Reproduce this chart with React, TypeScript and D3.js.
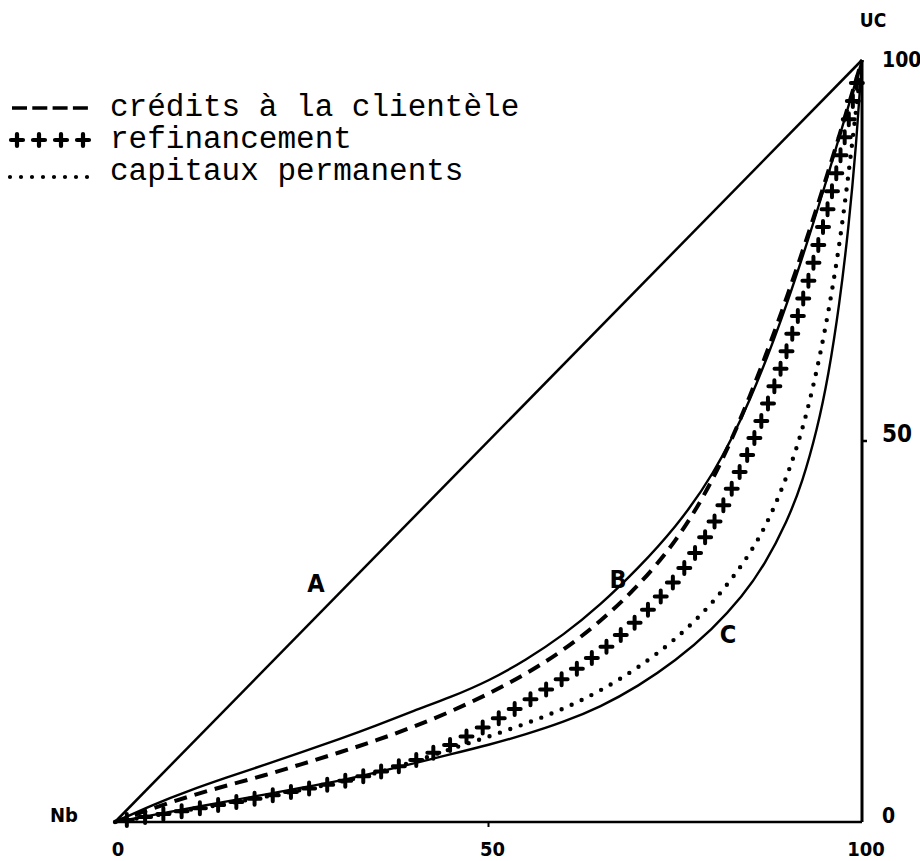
import React, { useEffect, useRef } from 'react';
import * as d3 from 'd3';

// Curve B (upper solid Lorenz curve)
const bX = [0, 5, 10, 15, 20, 25, 30, 35, 40, 45, 50, 55, 60, 65, 70, 75, 80, 85, 90, 95, 100];
const bY = [0, 2.25, 4.15, 5.85, 7.5, 9.15, 10.85, 12.65, 14.6, 16.4, 18.5, 21.25, 24.5, 28.5, 33.25, 38.6, 45.3, 55, 67.8, 83.2, 100];

// Curve C (lower solid Lorenz curve)
const cX = [0, 5, 10, 15, 20, 25, 30, 35, 40, 45, 50, 55, 60, 65, 70, 75, 80, 84, 87, 90, 92, 94, 95.5, 97, 98.2, 99.2, 100];
const cY = [0, 0.9, 1.8, 2.7, 3.6, 4.5, 5.4, 6.5, 7.7, 8.9, 10.1, 11.5, 13.1, 15.1, 17.8, 21.1, 25.3, 29.6, 33.8, 39.5, 44.5, 51.5, 58.5, 68, 78, 88.5, 100];

// crédits à la clientèle (dashed)
const creditsX = [0, 5, 10, 15, 20, 25, 30, 35, 40, 45, 50, 55, 60, 65, 70, 75, 80, 85, 90, 95, 100];
const creditsY = [0, 1.8, 3.4, 4.8, 6.1, 7.6, 9.1, 10.7, 12.5, 14.5, 16.8, 19.4, 22.5, 26.3, 30.9, 36.6, 44.5, 55.6, 68.8, 83.6, 100];

// refinancement (crosses)
const refiX = [0, 5, 10, 15, 20, 25, 30, 35, 40, 45, 50, 55, 60, 65, 70, 75, 80, 85, 90, 95, 100];
const refiY = [0, 0.8, 1.6, 2.4, 3.3, 4.2, 5.2, 6.4, 7.9, 10.1, 12.8, 15.7, 18.8, 22.3, 26.4, 31.5, 38.5, 48.5, 61.5, 78, 100];

// capitaux permanents (dotted)
const capX = [0, 5, 10, 15, 20, 25, 30, 35, 40, 45, 50, 55, 60, 65, 70, 75, 80, 85, 88, 91, 93, 95, 97, 98.5, 100];
const capY = [0, 0.8, 1.6, 2.4, 3.3, 4.2, 5.2, 6.4, 7.9, 9.6, 11.2, 12.9, 14.8, 17.2, 20.2, 23.9, 28.6, 35, 40.5, 48, 55, 64, 75.5, 87.5, 100];

const legendLabels = ['crédits à la clientèle', 'refinancement', 'capitaux permanents'];
const xTicks = [0, 50, 100];
const yTicks = [0, 50, 100];

const App: React.FC = () => {
  const svgRef = useRef<SVGSVGElement | null>(null);

  useEffect(() => {
    const width = 920;
    const height = 861;
    const svg = d3.select(svgRef.current);
    svg.selectAll('*').remove();
    svg.attr('width', width).attr('height', height);

    const x = d3.scaleLinear().domain([0, 100]).range([115, 862]);
    const y = d3.scaleLinear().domain([0, 100]).range([822, 60]);

    const pts = (xs: number[], ys: number[]) => xs.map((v, i) => [x(v), y(ys[i])] as [number, number]);
    const curve = d3.line<[number, number]>().x(d => d[0]).y(d => d[1]).curve(d3.curveBasis);

    const labelFont = "'DejaVu Sans Condensed', 'DejaVu Sans', sans-serif";
    const plus = 'M-6,0H6M0,-6V6';

    // Axes
    svg.append('line')
      .attr('x1', x(0)).attr('x2', x(100)).attr('y1', y(0)).attr('y2', y(0))
      .attr('stroke', '#000').attr('stroke-width', 2.6);
    svg.append('line')
      .attr('x1', x(50)).attr('x2', x(50)).attr('y1', y(0)).attr('y2', y(0) + 5)
      .attr('stroke', '#000').attr('stroke-width', 2);
    svg.append('line')
      .attr('x1', x(100)).attr('x2', x(100)).attr('y1', y(0)).attr('y2', y(100))
      .attr('stroke', '#000').attr('stroke-width', 3);
    svg.append('line')
      .attr('x1', x(100)).attr('x2', x(100) + 5).attr('y1', y(50)).attr('y2', y(50))
      .attr('stroke', '#000').attr('stroke-width', 2.5);

    // Tick labels
    svg.append('g').selectAll('text').data(xTicks).enter().append('text')
      .attr('x', d => x(d) + (d === 0 ? 3 : 4)).attr('y', 856)
      .attr('text-anchor', 'middle')
      .attr('font-family', labelFont).attr('font-weight', 'bold').attr('font-size', 20)
      .text(d => d);
    svg.append('g').selectAll('text').data(yTicks).enter().append('text')
      .attr('x', x(100) + 20).attr('y', d => y(d) + (d === 100 ? 7 : 1))
      .attr('text-anchor', 'start')
      .attr('font-family', labelFont).attr('font-weight', 'bold').attr('font-size', d => (d === 50 ? 24 : 21))
      .text(d => d);

    svg.append('text').attr('x', 873).attr('y', 27).attr('text-anchor', 'middle')
      .attr('font-family', labelFont).attr('font-weight', 'bold').attr('font-size', 19).text('UC');
    svg.append('text').attr('x', 64).attr('y', 822).attr('text-anchor', 'middle')
      .attr('font-family', labelFont).attr('font-weight', 'bold').attr('font-size', 20).text('Nb');

    // Line A (equality)
    svg.append('path')
      .attr('d', curve([[x(0), y(0)], [x(100), y(100)]]) as string)
      .attr('fill', 'none').attr('stroke', '#000').attr('stroke-width', 2.5);

    // B and C
    svg.append('path').attr('d', curve(pts(bX, bY)) as string)
      .attr('fill', 'none').attr('stroke', '#000').attr('stroke-width', 2.4);
    svg.append('path').attr('d', curve(pts(cX, cY)) as string)
      .attr('fill', 'none').attr('stroke', '#000').attr('stroke-width', 2.4);

    // crédits (dashed)
    svg.append('path').attr('d', curve(pts(creditsX, creditsY)) as string)
      .attr('fill', 'none').attr('stroke', '#000').attr('stroke-width', 4)
      .attr('stroke-dasharray', '13 8');

    // capitaux (dotted)
    svg.append('path').attr('d', curve(pts(capX, capY)) as string)
      .attr('fill', 'none').attr('stroke', '#000').attr('stroke-width', 4.4)
      .attr('stroke-linecap', 'round').attr('stroke-dasharray', '0 11');

    // refinancement (crosses along the curve)
    const refiPath = svg.append('path').attr('d', curve(pts(refiX, refiY)) as string)
      .attr('fill', 'none').attr('stroke', 'none');
    const node = refiPath.node() as SVGPathElement;
    const total = node.getTotalLength();
    const crossPos: [number, number][] = [];
    for (let l = 12; l < total - 8; l += 18.5) {
      const p = node.getPointAtLength(l);
      crossPos.push([p.x, p.y]);
    }
    svg.append('g').selectAll('path').data(crossPos).enter().append('path')
      .attr('transform', d => `translate(${d[0]},${d[1]})`)
      .attr('d', plus)
      .attr('stroke', '#000').attr('stroke-width', 4).attr('stroke-linecap', 'round');

    // Curve labels
    const curveLabels = [
      { t: 'A', px: 316, py: 592 },
      { t: 'B', px: 618, py: 588 },
      { t: 'C', px: 728, py: 643 },
    ];
    svg.append('g').selectAll('text').data(curveLabels).enter().append('text')
      .attr('x', d => d.px).attr('y', d => d.py).attr('text-anchor', 'middle')
      .attr('font-family', labelFont).attr('font-weight', 'bold').attr('font-size', 25)
      .text(d => d.t);

    // Legend
    const lg = svg.append('g');
    const baseY = [116, 148, 180];
    lg.append('line').attr('x1', 12).attr('x2', 88).attr('y1', baseY[0] - 8).attr('y2', baseY[0] - 8)
      .attr('stroke', '#000').attr('stroke-width', 3.6).attr('stroke-dasharray', '15 5.3');
    const legCross = d3.range(4).map(i => 17 + i * 22);
    lg.selectAll('path.lc').data(legCross).enter().append('path')
      .attr('class', 'lc')
      .attr('transform', d => `translate(${d},${baseY[1] - 8})`)
      .attr('d', plus)
      .attr('stroke', '#000').attr('stroke-width', 4.2).attr('stroke-linecap', 'round');
    lg.append('line').attr('x1', 10).attr('x2', 88).attr('y1', baseY[2] - 3).attr('y2', baseY[2] - 3)
      .attr('stroke', '#000').attr('stroke-width', 4.2).attr('stroke-linecap', 'round')
      .attr('stroke-dasharray', '0 11');
    lg.selectAll('text').data(legendLabels).enter().append('text')
      .attr('x', 110).attr('y', (d, i) => baseY[i])
      .attr('font-family', "'Liberation Mono', 'DejaVu Sans Mono', monospace")
      .attr('font-size', 31)
      .text(d => d);
  }, []);

  return (
    <div style={{ position: 'absolute', left: 0, top: 0, background: '#fff' }}>
      <svg ref={svgRef}></svg>
    </div>
  );
};

export default App;
